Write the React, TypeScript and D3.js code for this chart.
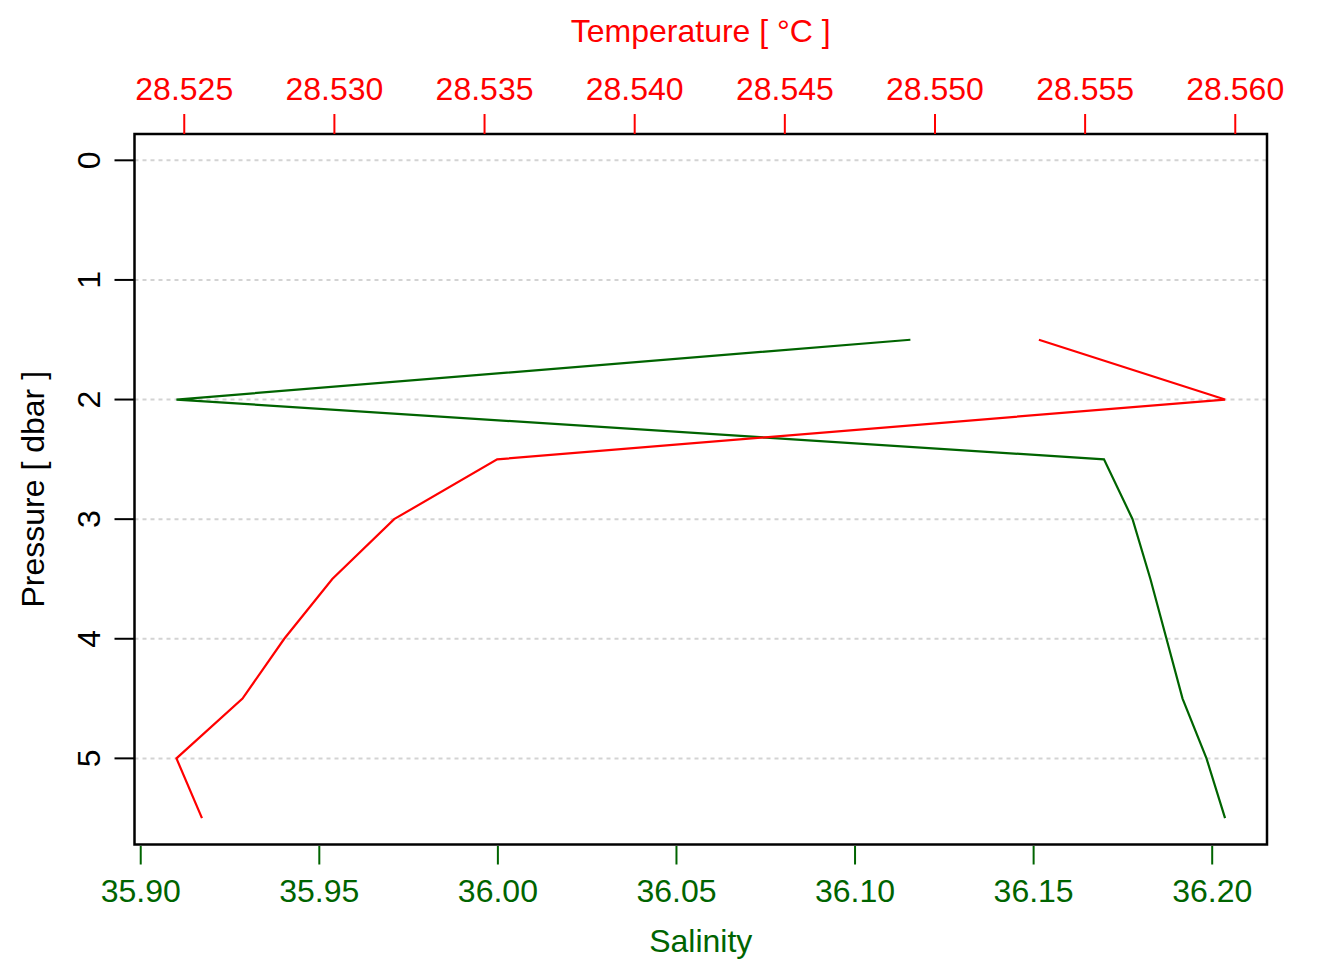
import { useEffect, useRef } from 'react';
import * as d3 from 'd3';

// CTD profile: temperature (top axis) and salinity (bottom axis) vs pressure
const pressure = [1.5, 2, 2.5, 3, 3.5, 4, 4.5, 5, 5.5];
const temperature = [28.55346, 28.55966, 28.53542, 28.53199, 28.52993, 28.52833, 28.52694, 28.52474, 28.52559];
const salinity = [36.1155, 35.91, 36.1697, 36.1777, 36.1827, 36.1872, 36.1917, 36.1984, 36.2036];

const tempTicks = [28.525, 28.53, 28.535, 28.54, 28.545, 28.55, 28.555, 28.56];
const salTicks = [35.9, 35.95, 36.0, 36.05, 36.1, 36.15, 36.2];
const pTicks = [0, 1, 2, 3, 4, 5];

const RED = '#ff0000';
const GREEN = '#006400';
const FONT = '"Liberation Sans", Arial, Helvetica, sans-serif';

// R-style axis extension: 4% of data range on each side
function extend(v: number[]): [number, number] {
  const [lo, hi] = d3.extent(v) as [number, number];
  const pad = (hi - lo) * 0.04;
  return [lo - pad, hi + pad];
}

export default function App() {
  const svgRef = useRef<SVGSVGElement>(null);

  useEffect(() => {
    if (!svgRef.current) return;
    const W = 1344;
    const H = 960;
    const box = { left: 134.5, right: 1267, top: 134, bottom: 844.5 };

    const svg = d3.select(svgRef.current);
    svg.selectAll('*').remove();
    svg.attr('width', W).attr('height', H).attr('viewBox', `0 0 ${W} ${H}`);
    svg.append('rect').attr('width', W).attr('height', H).attr('fill', '#fff');

    const xT = d3.scaleLinear().domain(extend(temperature)).range([box.left, box.right]);
    const xS = d3.scaleLinear().domain(extend(salinity)).range([box.left, box.right]);
    const y = d3.scaleLinear().domain([-0.22, 5.72]).range([box.top, box.bottom]);

    // grid
    svg
      .append('g')
      .selectAll('line')
      .data(pTicks)
      .join('line')
      .attr('x1', box.left)
      .attr('x2', box.right)
      .attr('y1', (d) => y(d))
      .attr('y2', (d) => y(d))
      .attr('stroke', '#d3d3d3')
      .attr('stroke-width', 2)
      .attr('stroke-dasharray', '4 4');

    // lines
    const line = (xs: d3.ScaleLinear<number, number>, vals: number[]) =>
      d3
        .line<number>()
        .x((d) => xs(d))
        .y((_, i) => y(pressure[i]))(vals);

    svg
      .append('path')
      .attr('d', line(xS, salinity))
      .attr('fill', 'none')
      .attr('stroke', GREEN)
      .attr('stroke-width', 2.2)
      .attr('stroke-linejoin', 'miter');

    svg
      .append('path')
      .attr('d', line(xT, temperature))
      .attr('fill', 'none')
      .attr('stroke', RED)
      .attr('stroke-width', 2.2)
      .attr('stroke-linejoin', 'miter');

    // box
    svg
      .append('rect')
      .attr('x', box.left)
      .attr('y', box.top)
      .attr('width', box.right - box.left)
      .attr('height', box.bottom - box.top)
      .attr('fill', 'none')
      .attr('stroke', '#000')
      .attr('stroke-width', 2.5);

    // top axis: temperature
    const top = svg.append('g');
    top
      .selectAll('line')
      .data(tempTicks)
      .join('line')
      .attr('x1', (d) => xT(d))
      .attr('x2', (d) => xT(d))
      .attr('y1', box.top)
      .attr('y2', box.top - 20)
      .attr('stroke', RED)
      .attr('stroke-width', 2);
    top
      .selectAll('text')
      .data(tempTicks)
      .join('text')
      .attr('x', (d) => xT(d))
      .attr('y', 100)
      .attr('text-anchor', 'middle')
      .attr('font-family', FONT)
      .attr('font-size', '32px')
      .attr('fill', RED)
      .text((d) => d.toFixed(3));
    svg
      .append('text')
      .attr('x', (box.left + box.right) / 2)
      .attr('y', 42)
      .attr('text-anchor', 'middle')
      .attr('font-family', FONT)
      .attr('font-size', '32px')
      .attr('fill', RED)
      .text('Temperature [ °C ]');

    // bottom axis: salinity
    const bot = svg.append('g');
    bot
      .selectAll('line')
      .data(salTicks)
      .join('line')
      .attr('x1', (d) => xS(d))
      .attr('x2', (d) => xS(d))
      .attr('y1', box.bottom + 1.5)
      .attr('y2', box.bottom + 20)
      .attr('stroke', GREEN)
      .attr('stroke-width', 2);
    bot
      .selectAll('text')
      .data(salTicks)
      .join('text')
      .attr('x', (d) => xS(d))
      .attr('y', 902)
      .attr('text-anchor', 'middle')
      .attr('font-family', FONT)
      .attr('font-size', '32px')
      .attr('fill', GREEN)
      .text((d) => d.toFixed(2));
    svg
      .append('text')
      .attr('x', (box.left + box.right) / 2)
      .attr('y', 952)
      .attr('text-anchor', 'middle')
      .attr('font-family', FONT)
      .attr('font-size', '32px')
      .attr('fill', GREEN)
      .text('Salinity');

    // left axis: pressure
    const left = svg.append('g');
    left
      .selectAll('line')
      .data(pTicks)
      .join('line')
      .attr('x1', box.left)
      .attr('x2', box.left - 20)
      .attr('y1', (d) => y(d))
      .attr('y2', (d) => y(d))
      .attr('stroke', '#000')
      .attr('stroke-width', 2);
    left
      .selectAll('text')
      .data(pTicks)
      .join('text')
      .attr('transform', (d) => `translate(99.5,${y(d)}) rotate(-90)`)
      .attr('text-anchor', 'middle')
      .attr('font-family', FONT)
      .attr('font-size', '32px')
      .attr('fill', '#000')
      .text((d) => String(d));
    svg
      .append('text')
      .attr('transform', `translate(43.5,${(box.top + box.bottom) / 2}) rotate(-90)`)
      .attr('text-anchor', 'middle')
      .attr('font-family', FONT)
      .attr('font-size', '32px')
      .attr('fill', '#000')
      .text('Pressure [ dbar ]');
  }, []);

  return <svg ref={svgRef} style={{ position: 'absolute', left: 0, top: 0, display: 'block' }} />;
}
